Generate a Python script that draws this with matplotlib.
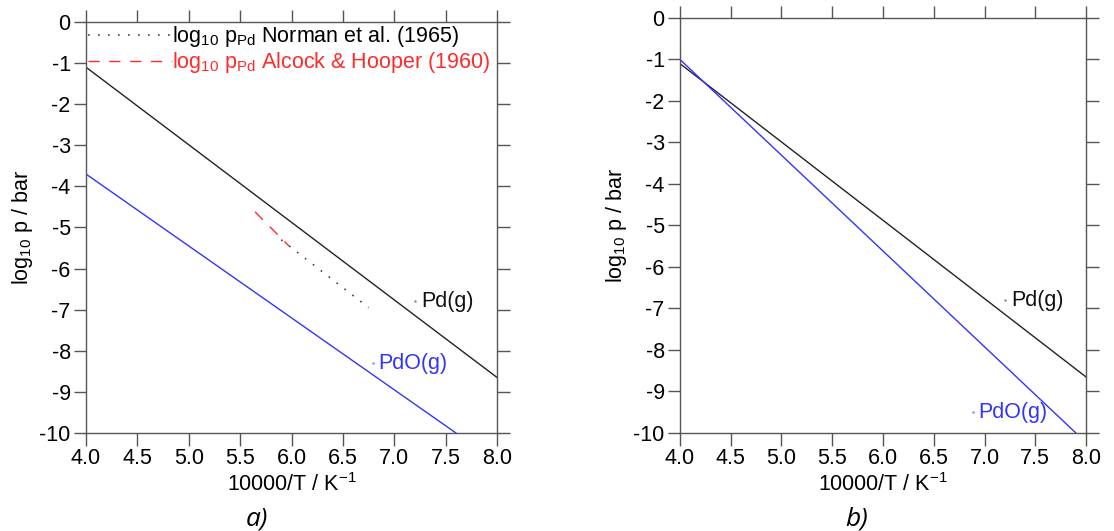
import matplotlib
matplotlib.use("Agg")
import matplotlib.pyplot as plt

plt.rcParams['font.family'] = ['Liberation Sans', 'DejaVu Sans']
plt.rcParams['mathtext.fontset'] = 'custom'
plt.rcParams['mathtext.rm'] = 'Liberation Sans'
plt.rcParams['mathtext.it'] = 'Liberation Sans'

# lines given by end points (10000/T, log10 p)
x_end = [4.0, 8.0]
pd_a = [-1.1, -8.65]
pdo_a_x = [4.0, 7.6]
pdo_a = [-3.7, -10.0]

norman_x = [5.90, 6.75]
norman_y = [-5.30, -6.95]
alcock_x = [5.645, 5.975]
alcock_y = [-4.62, -5.45]

pd_b = [-1.1, -8.65]
pdo_b_x = [4.0, 7.9]
pdo_b = [-1.0, -10.0]

xticks = [4.0, 4.5, 5.0, 5.5, 6.0, 6.5, 7.0, 7.5, 8.0]
yticks = list(range(0, -11, -1))

spine_col = "#555555"
blue = "#3333ff"
red = "#ff2a2a"
fs = 15.5

fig = plt.figure(figsize=(11.14, 5.31), dpi=100)
ax_a = fig.add_axes([0.0772, 0.1846, 0.369, 0.774])
ax_b = fig.add_axes([0.6104, 0.1846, 0.3645, 0.7815])


def style(ax):
    ax.set_xlim(4.0, 8.0)
    ax.set_ylim(-10, 0)
    ax.set_xticks(xticks)
    ax.set_xticklabels([f"{v:.1f}" for v in xticks])
    ax.set_yticks(yticks)
    ax.set_yticklabels([str(v) for v in yticks])
    ax.tick_params(direction="out", length=9, width=1, color=spine_col,
                   labelsize=fs, top=True, right=True, pad=2)
    for s in ax.spines.values():
        s.set_color(spine_col)
        s.set_linewidth(1)
    ax.set_xlabel("10000/T / K$^{-1}$", fontsize=fs, labelpad=3)
    ax.set_ylabel("log$_{10}$ p / bar", fontsize=fs, labelpad=3)


# panel a
style(ax_a)
ax_a.plot(x_end, pd_a, color="#222222", lw=1)
ax_a.plot(pdo_a_x, pdo_a, color=blue, lw=1)
l1, = ax_a.plot(norman_x, norman_y, color="#444444", lw=1.2, linestyle=(0, (1, 5)),
                label="log$_{10}$ p$_{\\mathrm{Pd}}$ Norman et al. (1965)")
l2, = ax_a.plot(alcock_x, alcock_y, color=red, lw=1, dashes=(8, 7),
                label="log$_{10}$ p$_{\\mathrm{Pd}}$ Alcock & Hooper (1960)")
leg = ax_a.legend(handles=[l1, l2], loc="upper left", frameon=False, fontsize=fs,
                  handlelength=3.9, handletextpad=0.0, borderaxespad=0.0,
                  borderpad=0.1, labelspacing=0.05)
leg.get_texts()[1].set_color(red)
ax_a.plot([7.2], [-6.8], marker=".", ms=1.5, color="#888888")
ax_a.text(7.26, -6.8, "Pd(g)", fontsize=fs, color="#111111", va="center")
ax_a.plot([6.79], [-8.3], marker=".", ms=1.5, color="#8888ff")
ax_a.text(6.84, -8.3, "PdO(g)", fontsize=fs, color=blue, va="center")

# panel b
style(ax_b)
ax_b.plot(x_end, pd_b, color="#222222", lw=1)
ax_b.plot(pdo_b_x, pdo_b, color=blue, lw=1)
ax_b.plot([7.2], [-6.8], marker=".", ms=1.5, color="#888888")
ax_b.text(7.26, -6.8, "Pd(g)", fontsize=fs, color="#111111", va="center")
ax_b.plot([6.89], [-9.5], marker=".", ms=1.5, color="#8888ff")
ax_b.text(6.94, -9.5, "PdO(g)", fontsize=fs, color=blue, va="center")

fig.text(0.231, 0.022, "a)", fontsize=19, style="italic", ha="center", va="center",
         family=["Open Sans", "DejaVu Sans"])
fig.text(0.769, 0.022, "b)", fontsize=19, style="italic", ha="center", va="center",
         family=["Open Sans", "DejaVu Sans"])

fig.savefig("out.png", dpi=100)
